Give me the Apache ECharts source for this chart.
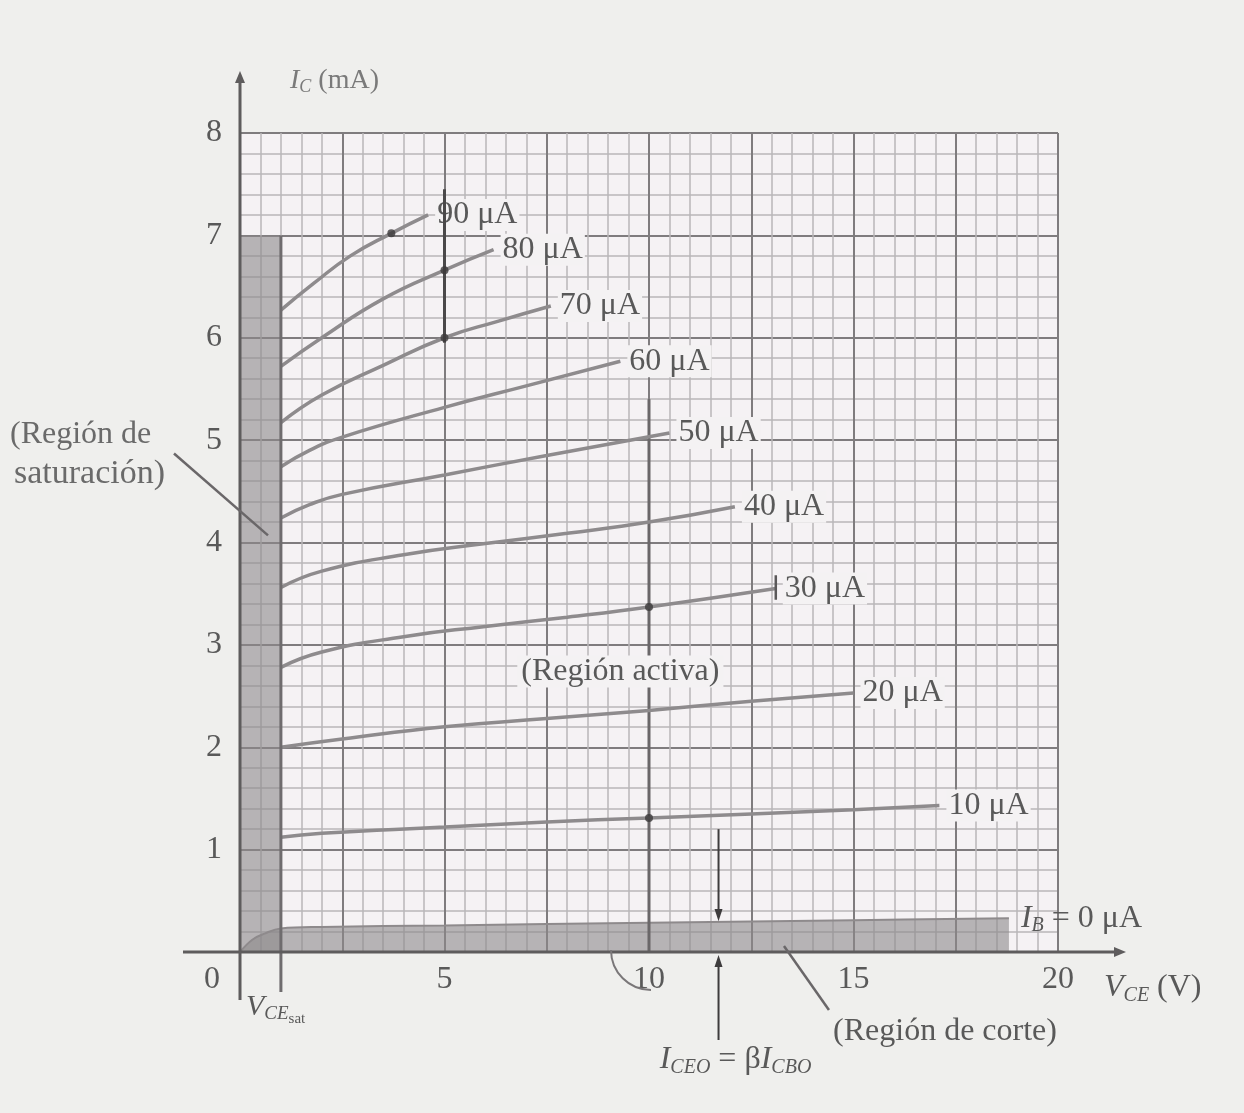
<!DOCTYPE html>
<html>
<head>
<meta charset="utf-8">
<script src="https://cdn.jsdelivr.net/npm/echarts@6/dist/echarts.min.js"></script>
<style>
  html, body { margin: 0; padding: 0; background: #efefed; }
  #chart { width: 1244px; height: 1113px; }
</style>
</head>
<body>
<div id="chart"></div>
<script>
// curvas de salida del transistor: IC (mA) contra VCE (V), una por cada IB
const ibNames = ['10 μA', '20 μA', '30 μA', '40 μA', '50 μA', '60 μA', '70 μA', '80 μA', '90 μA'];
const ib10 = [[1, 1.12], [2, 1.16], [5, 1.22], [7.5, 1.27], [10, 1.31], [15, 1.39], [17.1, 1.43]];
const ib20 = [[1, 2.0], [2.5, 2.08], [5, 2.2], [7.5, 2.28], [10, 2.36], [12.5, 2.45], [15, 2.53]];
const ib30 = [[1, 2.78], [2, 2.93], [4, 3.08], [6, 3.18], [8, 3.27], [10, 3.37], [13.1, 3.55]];
const ib40 = [[1, 3.56], [2, 3.72], [4, 3.88], [6, 3.99], [8, 4.09], [10, 4.2], [12.1, 4.35]];
const ib50 = [[1, 4.24], [1.7, 4.37], [2.5, 4.47], [5, 4.66], [7.5, 4.85], [10.5, 5.07]];
const ib60 = [[1, 4.74], [1.7, 4.9], [2.5, 5.03], [5, 5.32], [7, 5.53], [9.3, 5.77]];
const ib70 = [[1, 5.17], [2, 5.44], [3.5, 5.73], [5, 6.0], [6.3, 6.16], [7.6, 6.31]];
const ib80 = [[1, 5.72], [2, 6.0], [3.5, 6.38], [5, 6.66], [6.2, 6.86]];
const ib90 = [[1, 6.27], [1.8, 6.53], [2.7, 6.8], [3.7, 7.02], [4.6, 7.2]];
const ibCurves = [ib10, ib20, ib30, ib40, ib50, ib60, ib70, ib80, ib90];

// IB = 0 (borde de la región de corte)
const ib0 = [[0, 0], [0.3, 0.12], [0.6, 0.18], [1, 0.23], [2, 0.245], [5, 0.26], [10, 0.285], [15, 0.31], [18.8, 0.33]];

// región de saturación: VCE < VCEsat, hasta IC = 7 mA
const satVce = 1;
const satIc = 7;

// puntos marcados sobre las curvas
const dots = [[3.7, 7.02], [5, 6.66], [5, 6.0], [10, 3.37], [10, 1.31]];
// trazos verticales oscuros
const darkV5 = [[5, 7.45], [5, 5.95]];
const darkV10 = [[10, 5.4], [10, 0]];
const tick30 = [[13.1, 3.44], [13.1, 3.68]];

const vceMax = 20;
const icMax = 8;

const txt = '#595959';
const curveColor = '#8e8b8d';
const serif = 'Liberation Serif';
const fs = 32;

const chart = echarts.init(document.getElementById('chart'));

const curveSeries = ibCurves.map((d, i) => ({
  name: ibNames[i],
  type: 'line',
  xAxisIndex: 1,
  yAxisIndex: 1,
  data: d,
  smooth: 0.5,
  showSymbol: false,
  z: 5,
  lineStyle: { color: curveColor, width: 3.5 },
  endLabel: {
    show: true,
    formatter: '{a}',
    distance: 7,
    fontFamily: serif,
    fontSize: fs,
    color: txt,
    backgroundColor: '#f4f2f3',
    padding: [0, 2]
  }
}));

const option = {
  animation: false,
  backgroundColor: '#efefed',
  grid: {
    left: 240, right: 186, top: 133, bottom: 161,
    show: true, backgroundColor: '#f5f2f4', borderWidth: 0,
    containLabel: false, outerBoundsMode: 'none'
  },
  xAxis: [
    {
      type: 'value', position: 'bottom', min: 0, max: vceMax, interval: 0.5,
      axisLine: { show: false }, axisTick: { show: false }, axisLabel: { show: false },
      splitLine: { show: true, lineStyle: { color: '#b9b6b8', width: 1.5 } }
    },
    {
      type: 'value', position: 'bottom', min: 0, max: vceMax, interval: 2.5,
      axisLine: { show: false }, axisTick: { show: false },
      axisLabel: {
        margin: 12, fontFamily: serif, fontSize: fs, color: txt,
        formatter: v => (v > 0 && v % 5 === 0) ? String(v) : ''
      },
      splitLine: { show: true, lineStyle: { color: '#7f7c7e', width: 2 } }
    }
  ],
  yAxis: [
    {
      type: 'value', position: 'left', min: 0, max: icMax, interval: 0.2,
      axisLine: { show: false }, axisTick: { show: false }, axisLabel: { show: false },
      splitLine: { show: true, lineStyle: { color: '#b9b6b8', width: 1.5 } }
    },
    {
      type: 'value', position: 'left', min: 0, max: icMax, interval: 1,
      axisLine: { show: false }, axisTick: { show: false },
      axisLabel: {
        margin: 18, fontFamily: serif, fontSize: fs, color: txt,
        formatter: v => v > 0 ? String(v) : ''
      },
      splitLine: { show: true, lineStyle: { color: '#7f7c7e', width: 2 } }
    }
  ],
  series: [
    {
      name: 'IB0',
      type: 'line',
      xAxisIndex: 1, yAxisIndex: 1,
      data: ib0,
      smooth: 0.4,
      showSymbol: false,
      z: 3,
      lineStyle: { color: '#8e8a8c', width: 2 },
      areaStyle: { color: '#8c888a', opacity: 0.6 },
      endLabel: {
        show: true,
        distance: 12,
        formatter: '{i|I}{s|B}{t| = 0 μA}',
        rich: {
          i: { fontFamily: serif, fontStyle: 'italic', fontSize: fs, color: txt },
          s: { fontFamily: serif, fontStyle: 'italic', fontSize: 20, color: txt, padding: [16, 0, 0, 0] },
          t: { fontFamily: serif, fontSize: fs, color: txt }
        }
      },
      markArea: {
        silent: true,
        itemStyle: { color: '#8c888a', opacity: 0.6 },
        data: [[{ coord: [0, 0] }, { coord: [satVce, satIc] }]]
      }
    },
    ...curveSeries,
    {
      type: 'line', xAxisIndex: 1, yAxisIndex: 1, data: darkV5, showSymbol: false, z: 6,
      lineStyle: { color: '#4a4849', width: 3 }
    },
    {
      type: 'line', xAxisIndex: 1, yAxisIndex: 1, data: darkV10, showSymbol: false, z: 4,
      lineStyle: { color: '#6a6769', width: 3 }
    },
    {
      type: 'line', xAxisIndex: 1, yAxisIndex: 1, data: tick30, showSymbol: false, z: 6,
      lineStyle: { color: '#5a5859', width: 2.5 }
    },
    {
      type: 'scatter', xAxisIndex: 1, yAxisIndex: 1, data: dots, symbolSize: 8, z: 7,
      itemStyle: { color: '#3c3a3b' }
    }
  ]
};

chart.setOption(option);

// anotaciones: se ubican a partir de las escalas del propio gráfico
const px = (x, y) => chart.convertToPixel({ xAxisIndex: 1, yAxisIndex: 1 }, [x, y]);
const o = px(0, 0);
const topPt = px(0, icMax);
const rightPt = px(vceMax, 0);
const sat = px(satVce, 0);
const v10 = px(10, 0);
const iceoX = px(11.7, 0)[0];
const lineSt = (c, w) => ({ stroke: c, lineWidth: w });
const axisC = '#5e5c5d';
const sub = (size, pad) => ({ fontFamily: serif, fontStyle: 'italic', fontSize: size, fill: txt, padding: [pad, 0, 0, 0] });

const graphics = [
  // eje x prolongado con flecha
  { type: 'line', shape: { x1: o[0] - 57, y1: o[1], x2: rightPt[0] + 62, y2: o[1] }, style: lineSt(axisC, 3), z: 20 },
  { type: 'polygon', shape: { points: [[rightPt[0] + 68, o[1]], [rightPt[0] + 56, o[1] - 5], [rightPt[0] + 56, o[1] + 5]] }, style: { fill: axisC }, z: 20 },
  // eje y prolongado con flecha
  { type: 'line', shape: { x1: o[0], y1: topPt[1] - 55, x2: o[0], y2: o[1] + 48 }, style: lineSt(axisC, 3), z: 20 },
  { type: 'polygon', shape: { points: [[o[0], topPt[1] - 62], [o[0] - 5, topPt[1] - 50], [o[0] + 5, topPt[1] - 50]] }, style: { fill: axisC }, z: 20 },
  // línea de VCEsat
  { type: 'line', shape: { x1: sat[0], y1: px(0, satIc)[1], x2: sat[0], y2: o[1] + 40 }, style: lineSt('#6f6c6e', 3), z: 19 },
  // arco junto al 10
  { type: 'arc', shape: { cx: v10[0] + 2, cy: v10[1] - 2, r: 40, startAngle: Math.PI / 2, endAngle: Math.PI }, style: { stroke: '#7a7779', lineWidth: 2, fill: null }, z: 20 },
  // títulos de ejes
  { type: 'text', x: o[0] + 50, y: topPt[1] - 68, style: {
      text: '{i|I}{s|C}{t| (mA)}', rich: {
        i: { fontFamily: serif, fontStyle: 'italic', fontSize: 28, fill: '#7a7a7a' },
        s: { fontFamily: serif, fontStyle: 'italic', fontSize: 18, fill: '#7a7a7a', padding: [13, 0, 0, 0] },
        t: { fontFamily: serif, fontSize: 28, fill: '#7a7a7a' } } }, z: 20 },
  { type: 'text', x: rightPt[0] + 46, y: o[1] + 18, style: {
      text: '{i|V}{s|CE}{t| (V)}', rich: {
        i: { fontFamily: serif, fontStyle: 'italic', fontSize: fs, fill: txt },
        s: sub(20, 16),
        t: { fontFamily: serif, fontSize: fs, fill: txt } } }, z: 20 },
  { type: 'text', x: o[0] - 36, y: o[1] + 12, style: { text: '0', fontFamily: serif, fontSize: fs, fill: txt }, z: 20 },
  // VCEsat
  { type: 'text', x: o[0] + 6, y: o[1] + 36, style: {
      text: '{i|V}{s|CE}{ss|sat}', rich: {
        i: { fontFamily: serif, fontStyle: 'italic', fontSize: 30, fill: txt },
        s: sub(19, 13),
        ss: { fontFamily: serif, fontSize: 15, fill: txt, padding: [24, 0, 0, 0] } } }, z: 20 },
  // ICEO = beta ICBO con flechas
  { type: 'line', shape: { x1: iceoX, y1: px(0, 1.2)[1], x2: iceoX, y2: px(0, 0.38)[1] }, style: lineSt('#3e3c3d', 2), z: 20 },
  { type: 'polygon', shape: { points: [[iceoX, px(0, 0.3)[1]], [iceoX - 4, px(0, 0.42)[1]], [iceoX + 4, px(0, 0.42)[1]]] }, style: { fill: '#3e3c3d' }, z: 20 },
  { type: 'line', shape: { x1: iceoX, y1: o[1] + 88, x2: iceoX, y2: o[1] + 12 }, style: lineSt('#3e3c3d', 2), z: 20 },
  { type: 'polygon', shape: { points: [[iceoX, o[1] + 3], [iceoX - 4, o[1] + 15], [iceoX + 4, o[1] + 15]] }, style: { fill: '#3e3c3d' }, z: 20 },
  { type: 'text', x: iceoX + 17, y: o[1] + 108, style: {
      text: '{i|I}{s|CEO}{t| = β}{i|I}{s|CBO}', align: 'center', verticalAlign: 'middle', rich: {
        i: { fontFamily: serif, fontStyle: 'italic', fontSize: fs, fill: txt },
        s: sub(20, 16),
        t: { fontFamily: serif, fontSize: fs, fill: txt } } }, z: 20 },
  // región de corte
  { type: 'line', shape: { x1: px(13.3, 0)[0], y1: o[1] - 6, x2: px(14.4, 0)[0], y2: o[1] + 58 }, style: lineSt('#6a6769', 2.5), z: 20 },
  { type: 'text', x: px(14.5, 0)[0], y: o[1] + 80, style: { text: '(Región de corte)', fontFamily: serif, fontSize: fs, fill: txt, verticalAlign: 'middle' }, z: 20 },
  // región activa
  { type: 'text', x: px(9.3, 3.3)[0], y: px(0, 2.74)[1], style: {
      text: '(Región activa)', fontFamily: serif, fontSize: fs, fill: txt, align: 'center', verticalAlign: 'middle',
      backgroundColor: '#f4f2f3', padding: [0, 4] }, z: 20 },
  // región de saturación
  { type: 'line', shape: { x1: o[0] - 66, y1: px(0, 4.87)[1], x2: o[0] + 28, y2: px(0, 4.07)[1] }, style: lineSt('#6a6769', 2.5), z: 20 },
  { type: 'text', x: 10, y: px(0, 5.05)[1], style: { text: '(Región de', fontFamily: serif, fontSize: fs, fill: '#6a6a6a', verticalAlign: 'middle' }, z: 20 },
  { type: 'text', x: 165, y: px(0, 4.67)[1], style: { text: 'saturación)', fontFamily: serif, fontSize: 34, fill: '#6a6a6a', align: 'right', verticalAlign: 'middle' }, z: 20 }
];

chart.setOption({ graphic: graphics });
</script>
</body>
</html>
